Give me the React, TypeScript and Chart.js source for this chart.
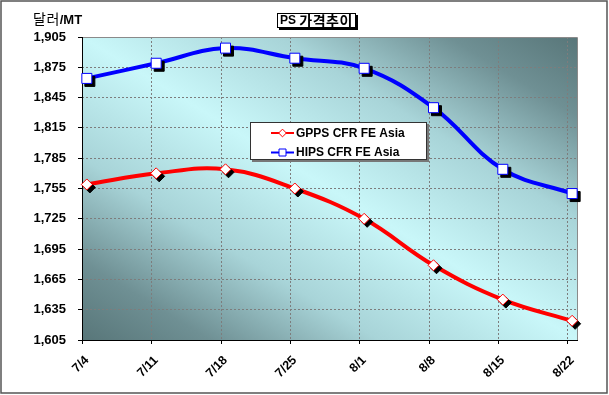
import React, { useEffect, useRef } from 'react';
import { Chart, registerables } from 'chart.js';

Chart.register(...registerables);

// ---- data ----
const categories = ['7/4', '7/11', '7/18', '7/25', '8/1', '8/8', '8/15', '8/22'];
const gppsValues = [1759, 1770, 1774, 1755, 1725, 1679, 1645, 1624];
const hipsValues = [1864, 1879, 1894, 1884, 1874, 1835, 1774, 1750];
const seriesNames = ['GPPS CFR FE Asia', 'HIPS CFR FE Asia'];
const seriesColors = ['#ff0000', '#0000ff'];
const seriesShapes = ['diamond', 'square'];
const yMin = 1605;
const yMax = 1905;
const yStep = 30;
const titleLatin = 'PS ';
const titleKorean = '가격추이';
const unitKorean = '달러';
const unitLatin = '/MT';

const LATIN = '"Liberation Sans", Arial, sans-serif';
const KOREAN = '"Noto Sans CJK KR", sans-serif';
const EDGE = 0.07; // category-axis margin (fraction of a category step)
const GRID_SHIFT = 0.07;

function drawMarker(ctx: CanvasRenderingContext2D, shape: string, x: number, y: number, fill: string, stroke: string, r: number) {
  ctx.beginPath();
  if (shape === 'square') {
    ctx.rect(x - r, y - r, 2 * r, 2 * r);
  } else {
    const d = r * 1.1;
    ctx.moveTo(x, y - d);
    ctx.lineTo(x + d, y);
    ctx.lineTo(x, y + d);
    ctx.lineTo(x - d, y);
    ctx.closePath();
  }
  ctx.fillStyle = fill;
  ctx.fill();
  ctx.lineWidth = 1;
  ctx.strokeStyle = stroke;
  ctx.stroke();
}

const decorPlugin = {
  id: 'decor',
  beforeDraw(chart: any) {
    const { ctx, chartArea: a, width, height } = chart;
    ctx.save();
    ctx.fillStyle = '#ffffff';
    ctx.fillRect(0, 0, width, height);
    const w = a.right - a.left;
    const h = a.bottom - a.top;
    const cx = (a.left + a.right) / 2;
    const cy = (a.top + a.bottom) / 2;
    const len = Math.hypot(w, h);
    const nx = h / len;
    const ny = -w / len;
    const d = (w * h) / len;
    const g = ctx.createLinearGradient(cx - d * nx, cy - d * ny, cx + d * nx, cy + d * ny);
    g.addColorStop(0, '#587679');
    g.addColorStop(0.13, '#6f9094');
    g.addColorStop(0.3, '#a8d4d8');
    g.addColorStop(0.5, '#c9f7f9');
    g.addColorStop(0.7, '#a8d4d8');
    g.addColorStop(0.87, '#6f9094');
    g.addColorStop(1, '#587679');
    ctx.fillStyle = g;
    ctx.fillRect(a.left, a.top, w, h);
    ctx.restore();
  },
  beforeDatasetsDraw(chart: any) {
    const { ctx, chartArea: a } = chart;
    const xs = chart.scales.x;
    ctx.save();
    ctx.strokeStyle = '#7d7d7d';
    ctx.lineWidth = 1;
    ctx.setLineDash([2, 2]);
    categories.forEach((_, i) => {
      if (i === 0) return;
      const x = Math.round(xs.getPixelForValue(i - GRID_SHIFT)) + 0.5;
      ctx.beginPath();
      ctx.moveTo(x, a.top);
      ctx.lineTo(x, a.bottom);
      ctx.stroke();
    });
    ctx.setLineDash([]);
    ctx.strokeStyle = '#000';
    categories.forEach((_, i) => {
      const x = Math.round(xs.getPixelForValue(i - GRID_SHIFT)) + 0.5;
      ctx.beginPath();
      ctx.moveTo(x, a.bottom);
      ctx.lineTo(x, a.bottom + 4);
      ctx.stroke();
    });
    ctx.strokeStyle = '#8a8a8a';
    ctx.beginPath();
    ctx.moveTo(Math.round(a.left), Math.round(a.top) + 0.5);
    ctx.lineTo(Math.round(a.right) + 0.5, Math.round(a.top) + 0.5);
    ctx.lineTo(Math.round(a.right) + 0.5, Math.round(a.bottom));
    ctx.stroke();
    ctx.strokeStyle = '#000';
    ctx.beginPath();
    ctx.moveTo(Math.round(a.left) + 0.5, Math.round(a.top));
    ctx.lineTo(Math.round(a.left) + 0.5, Math.round(a.bottom) + 0.5);
    ctx.lineTo(Math.round(a.right) + 1, Math.round(a.bottom) + 0.5);
    ctx.stroke();
    ctx.restore();
  },
  afterDatasetsDraw(chart: any) {
    const { ctx } = chart;
    ctx.save();
    chart.data.datasets.forEach((_: any, di: number) => {
      const meta = chart.getDatasetMeta(di);
      const shape = seriesShapes[di];
      meta.data.forEach((pt: any) => {
        drawMarker(ctx, shape, pt.x + 3, pt.y + 3, '#000', '#000', 5);
        drawMarker(ctx, shape, pt.x, pt.y, '#fff', seriesColors[di], 5);
      });
    });
    ctx.restore();
  },
  afterDraw(chart: any) {
    const { ctx, chartArea: a, width, height } = chart;
    ctx.save();
    ctx.strokeStyle = '#555';
    ctx.lineWidth = 1.5;
    ctx.strokeRect(1, 1, width - 3, height - 3);

    // unit label
    ctx.textBaseline = 'middle';
    ctx.textAlign = 'left';
    ctx.fillStyle = '#000';
    let ux = 33;
    const uy = 19;
    ctx.font = `14px ${KOREAN}`;
    (ctx as any).letterSpacing = '0.5px';
    ctx.fillText(unitKorean, ux, uy);
    ux += ctx.measureText(unitKorean).width;
    (ctx as any).letterSpacing = '0px';
    ctx.font = `bold 13px ${LATIN}`;
    ctx.fillText(unitLatin, ux, uy + 1);

    // title box
    ctx.font = `bold 12px ${LATIN}`;
    const wLat = ctx.measureText(titleLatin).width;
    ctx.font = `bold 14px ${KOREAN}`;
    (ctx as any).letterSpacing = '0.5px';
    const wKor = ctx.measureText(titleKorean).width;
    (ctx as any).letterSpacing = '0px';
    const tw = wLat + wKor;
    const tcx = 316;
    const bx = Math.round(tcx - tw / 2 - 3);
    const by = 13;
    const bw = Math.round(tw + 6);
    const bh = 15;
    ctx.fillStyle = '#000';
    ctx.fillRect(bx + 2, by + 2, bw, bh);
    ctx.fillStyle = '#fff';
    ctx.fillRect(bx, by, bw, bh);
    ctx.strokeStyle = '#000';
    ctx.lineWidth = 1;
    ctx.strokeRect(bx + 0.5, by + 0.5, bw - 1, bh - 1);
    ctx.fillStyle = '#000';
    ctx.font = `bold 12px ${LATIN}`;
    ctx.fillText(titleLatin, bx + 3, by + bh / 2 + 0.5);
    ctx.font = `bold 14px ${KOREAN}`;
    (ctx as any).letterSpacing = '0.5px';
    ctx.fillText(titleKorean, bx + 3 + wLat, by + bh / 2 + 0.5);
    (ctx as any).letterSpacing = '0px';

    // legend box
    const lx = a.left + 168;
    const ly = a.top + 85;
    const lw = 177;
    const lh = 38;
    ctx.fillStyle = '#777';
    ctx.fillRect(lx + 2, ly + 2, lw, lh);
    ctx.fillStyle = '#fff';
    ctx.fillRect(lx, ly, lw, lh);
    ctx.strokeStyle = '#333';
    ctx.strokeRect(lx + 0.5, ly + 0.5, lw - 1, lh - 1);
    ctx.font = `bold 12px ${LATIN}`;
    ctx.textBaseline = 'middle';
    seriesNames.forEach((name, i) => {
      const ry = ly + 11 + i * 19.5;
      ctx.strokeStyle = seriesColors[i];
      ctx.lineWidth = 2;
      ctx.beginPath();
      ctx.moveTo(lx + 21, ry);
      ctx.lineTo(lx + 44, ry);
      ctx.stroke();
      drawMarker(ctx, seriesShapes[i], lx + 32.5, ry, '#fff', seriesColors[i], 3.5);
      ctx.fillStyle = '#000';
      ctx.fillText(name, lx + 46, ry + 0.5);
    });
    ctx.restore();
  },
};

export default function App() {
  const ref = useRef<HTMLCanvasElement | null>(null);
  useEffect(() => {
    if (!ref.current) return;
    const toPts = (vals: number[]) => vals.map((v, i) => ({ x: i, y: v }));
    const chart = new Chart(ref.current, {
      type: 'line',
      data: {
        datasets: [
          {
            label: seriesNames[0],
            data: toPts(gppsValues),
            borderColor: seriesColors[0],
            borderWidth: 4,
            pointRadius: 0,
            tension: 0.4,
            fill: false,
          },
          {
            label: seriesNames[1],
            data: toPts(hipsValues),
            borderColor: seriesColors[1],
            borderWidth: 4,
            pointRadius: 0,
            tension: 0.4,
            fill: false,
          },
        ],
      },
      options: {
        animation: false,
        responsive: false,
        devicePixelRatio: 1,
        layout: { padding: { left: 0, right: 32, top: 37, bottom: 0 } },
        plugins: { legend: { display: false }, tooltip: { enabled: false }, title: { display: false } },
        scales: {
          x: {
            type: 'linear',
            min: -EDGE,
            max: categories.length - 1 + EDGE,
            afterBuildTicks: (s: any) => {
              s.ticks = categories.map((_, i) => ({ value: i }));
            },
            afterFit: (s: any) => {
              s.height = 55;
            },
            ticks: {
              autoSkip: false,
              maxRotation: 45,
              minRotation: 45,
              padding: 9,
              color: '#000',
              font: { family: LATIN, size: 12.5, weight: 'bold' },
              callback: (v: any) => categories[Math.round(Number(v))] ?? '',
            },
            grid: { display: true, drawOnChartArea: false, color: 'rgba(0,0,0,0)', tickLength: 4 },
            border: { display: false },
          },
          y: {
            type: 'linear',
            min: yMin,
            max: yMax,
            afterFit: (s: any) => {
              s.width = 82;
            },
            ticks: {
              stepSize: yStep,
              padding: 12,
              color: '#000',
              font: { family: LATIN, size: 13, weight: 'bold' },
              callback: (v: any) => Number(v).toLocaleString('en-US'),
            },
            grid: { color: '#7d7d7d', tickLength: 4, tickColor: '#000', lineWidth: 1 },
            border: { display: false, dash: [2, 2] },
          },
        },
      },
      plugins: [decorPlugin],
    } as any);
    return () => chart.destroy();
  }, []);
  return (
    <div style={{ position: 'absolute', left: 0, top: 0, width: 609, height: 395 }}>
      <canvas ref={ref} width={609} height={395} style={{ display: 'block', width: 609, height: 395 }} />
    </div>
  );
}
